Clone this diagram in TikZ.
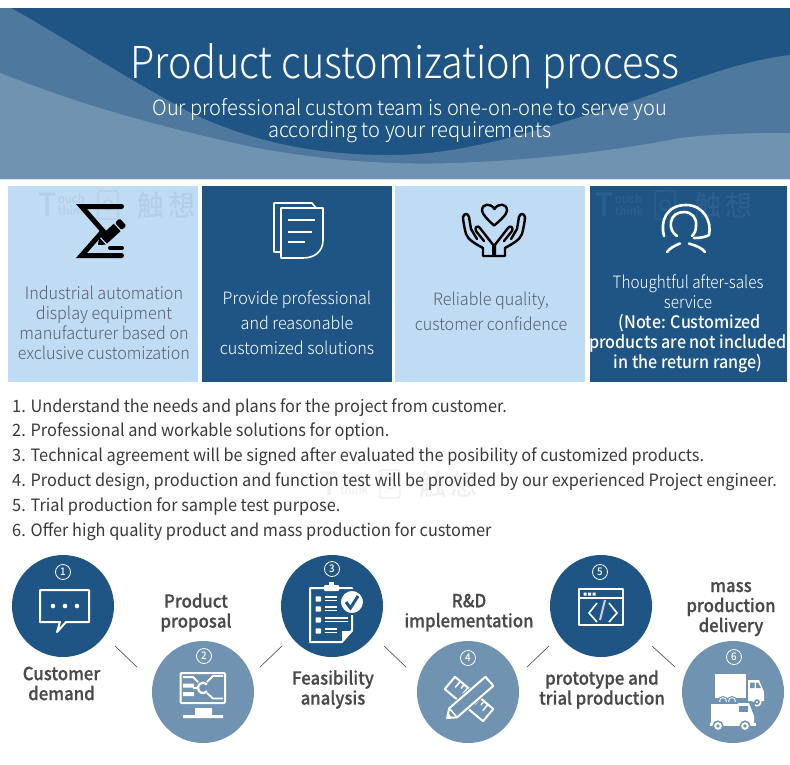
\documentclass[tikz,border=0pt]{standalone}
\usepackage{fontspec}
\setmainfont{Noto Sans CJK SC}
\newfontfamily\titlef[FakeStretch=0.9]{Noto Sans CJK SC Light}
\newfontfamily\subf[FakeStretch=0.955]{Noto Sans CJK SC Light}
\newfontfamily\lightf[FakeStretch=0.95]{Noto Sans CJK SC Light}
\newfontfamily\lightnf[FakeStretch=0.9]{Noto Sans CJK SC Light}
\newfontfamily\boldf[FakeStretch=0.93]{Noto Sans CJK SC Medium}
\newfontfamily\labelf[FakeStretch=0.93,FakeBold=0.6]{Noto Sans CJK SC Medium}
\newfontfamily\wmf[FakeStretch=0.93]{Noto Sans CJK SC Medium}
\newfontfamily\regf[FakeStretch=0.96]{Noto Sans CJK SC}
\definecolor{dk}{HTML}{1F5585}
\definecolor{md}{HTML}{4F789E}
\definecolor{lt}{HTML}{7093B2}
\definecolor{pale}{HTML}{C0DBF4}
\definecolor{graytx}{HTML}{56606A}
\definecolor{labeltx}{HTML}{4A4A4A}
\definecolor{listtx}{HTML}{3A3A3A}
\tikzset{
  x=1pt,y=-1pt,
  cardpale/.style={fill=pale,draw=none},
  carddark/.style={fill=dk,draw=none},
  txt/.style={inner sep=0pt,align=center,text=#1},
  lighttxt/.style={txt=graytx,font=\lightf\fontsize{17}{20}\selectfont},
  whitetxt/.style={txt=white,font=\lightf\fontsize{17}{25}\selectfont},
  listline/.style={inner sep=0pt,anchor=west,text=listtx,font=\regf\fontsize{17}{20}\selectfont},
  steplabel/.style={txt=labeltx,font=\labelf\fontsize{18}{20}\selectfont},
  dkcirc/.style={circle,fill=dk,minimum size=102pt,inner sep=0pt},
  ltcirc/.style={circle,fill=lt,minimum size=102pt,inner sep=0pt},
  numb/.style={circle,draw=white,line width=0.8pt,minimum size=15pt,inner sep=0pt,text=white,font=\boldf\fontsize{10.5}{11}\selectfont},
  icon/.style={draw=white,line width=2pt,line join=round},
  link/.style={draw=black!65,line width=0.7pt},
  hand/.style={draw=black,line width=2.4pt,line join=round,line cap=round},
  headset/.style={draw=white,line width=2.6pt,line cap=round,line join=round},
}
\newcommand{\wmark}[4]{%
 \begin{scope}[shift={(#2,#3)},opacity=0.06]
  \node[inner sep=0pt,anchor=west,text=#4,font=\wmf\fontsize{32}{32}\selectfont] (wT#1) at (0,0) {T};
  \node[inner sep=0pt,anchor=west,align=left,text=#4,font=\wmf\fontsize{12}{12.5}\selectfont] (wS#1) at (20,0) {ouch\\think};
  \draw[#4,line width=1.4pt,rounded corners=2pt] (60,-14) rectangle (80,14);
  \draw[#4,line width=1.4pt] (70,0) circle (5);
  \node[inner sep=0pt,anchor=west,text=#4,font=\wmf\fontsize{29}{30}\selectfont] (wC#1) at (99,0) {触\hspace{4pt}想};
 \end{scope}}
\begin{document}
\begin{tikzpicture}
\useasboundingbox (0,0) rectangle (790,764);
\fill[white] (0,0) rectangle (790,764);
% banner
\begin{scope}
\clip (0,8) rectangle (790,179);
\fill[dk] (0,8) rectangle (790,179);
\fill[md] (0,8) -- (11,8) .. controls (60,35) and (120,75) .. (191,113)
  .. controls (240,136) and (300,155) .. (390,155)
  .. controls (470,155) and (540,128) .. (605,110)
  .. controls (670,90) and (730,62) .. (790,55) -- (790,179) -- (0,179) -- cycle;
\fill[lt] (0,73) .. controls (60,96) and (120,118) .. (252,147)
  .. controls (330,162) and (400,165) .. (453,163)
  .. controls (540,160) and (620,150) .. (680,138)
  .. controls (720,133) and (760,133) .. (790,133) -- (790,179) -- (0,179) -- cycle;
\end{scope}
\node[txt=white,font=\titlef\fontsize{44}{50}\selectfont] (title) at (405,66) {Product customization process};
\node[txt=white,font=\subf\fontsize{21}{22.5}\selectfont] (subtitle) at (410,120.5) {Our professional custom team is one-on-one to serve you\\according to your requirements};
% cards
\fill[cardpale] (8,186) rectangle (198,382);
\fill[carddark] (202,186) rectangle (392,382);
\fill[cardpale] (395,186) rectangle (585,382);
\fill[carddark] (590,186) rectangle (787,382);
\wmark{a}{38}{205}{black}
\wmark{b}{595}{205}{white}
\wmark{c}{320}{484}{black}
% sigma icon
\draw[black,line width=5pt,line join=miter,line cap=round] (121.5,206.5) -- (81.5,206.5) -- (103,231) -- (81.5,255.5) -- (121.5,255.5);
\draw[black,line width=4pt,line cap=round] (110,248) -- (122,248);
\begin{scope}[shift={(98,245)},rotate=42.5]
\fill[black] (0,0) -- (6,-5) -- (6,5) -- cycle;
\fill[black] (7.5,-5) -- (26,-5) -- (26,5) -- (7.5,5) -- cycle;
\fill[black,rounded corners=1.5pt] (27.5,-5) -- (34,-5) -- (34,5) -- (27.5,5) -- cycle;
\end{scope}
% document icon
\draw[white,line width=1.6pt,line join=round] (280,252) -- (274,252) -- (274,203) -- (312,203) -- (316,208);
\draw[white,line width=1.6pt,line join=round,fill=dk] (281,208) -- (323,208) -- (323,240) .. controls (323,252) and (314,258) .. (303,258) -- (281,258) -- cycle;
\draw[white,line width=1.6pt] (288,220) -- (315,220) (288,232) -- (312,232) (288,242) -- (305,242);
% hands icon
\draw[hand] (494,225.5) .. controls (488,220) and (482,214) .. (482,210.5) .. controls (482,203) and (491,203) .. (494.5,209) .. controls (498,203) and (507,203) .. (507,210.5) .. controls (507,214) and (501,220) .. (494,225.5) -- cycle;
\foreach \sx in {1,-1}{
\begin{scope}[shift={(494,0)},xscale=\sx]
\draw[hand]
 (-0.8,256) -- (-11,256) -- (-11,248) .. controls (-18,244) and (-26,240) .. (-28,234)
 .. controls (-30,226) and (-31,220) .. (-31,217) .. controls (-30,213) and (-26,213) .. (-25,217)
 -- (-23,229) -- (-17,239);
\draw[hand] (-10,241) -- (-18,231) .. controls (-20,227) and (-16,225) .. (-14,228) -- (-0.8,245) -- (-0.8,256);
\end{scope}}
% support icon
\draw[headset] (664,236) .. controls (660,222) and (666,205) .. (686,205) .. controls (704,205) and (712,222) .. (709,235)
  .. controls (706,237) and (700,238) .. (694,238);
\draw[headset] (677,236) .. controls (672,233) and (670,227) .. (671,222) .. controls (672,215) and (678,212) .. (684,212) .. controls (692,212) and (697,218) .. (696,226) .. controls (696,230) and (695,233) .. (692,236);
\draw[headset] (667,252) .. controls (670,248) and (674,246) .. (680,243.5);
\draw[headset] (705,252) .. controls (702,248) and (697,246) .. (689,243.5);
% card texts
\node[lighttxt] (t1) at (104,323) {Industrial automation\\display equipment\\manufacturer based on\\exclusive customization};
\node[whitetxt] (t2) at (297,323) {Provide professional\\and reasonable\\customized solutions};
\node[lighttxt,font=\lightf\fontsize{17}{25}\selectfont] (t3) at (491,311.5) {Reliable quality,\\customer confidence};
\node[txt=white,font=\lightnf\fontsize{17}{20}\selectfont] (t4a) at (688,292) {Thoughtful after-sales\\service};
\node[txt=white,font=\boldf\fontsize{17.3}{20}\selectfont] (t4b) at (688,343) {\hspace{4pt}(Note: Customized\\products are not included\\in the return range)};
% list
\node[listline] (l1) at (12,408) {1. Understand the needs and plans for the project from customer.};
\node[listline] (l2) at (12,432) {2. Professional and workable solutions for option.};
\node[listline] (l3) at (12,457) {3. Technical agreement will be signed after evaluated the posibility of customized products.};
\node[listline] (l4) at (12,482) {4. Product design, production and function test will be provided by our experienced Project engineer.};
\node[listline] (l5) at (12,507) {5. Trial production for sample test purpose.};
\node[listline] (l6) at (12,532) {6. Offer high quality product and mass production for customer};
% circles
\node[dkcirc] (c1) at (63,606) {};
\node[ltcirc] (c2) at (203,692) {};
\node[dkcirc] (c3) at (332,606) {};
\node[ltcirc] (c4) at (468,692) {};
\node[dkcirc] (c5) at (601,606) {};
\node[ltcirc] (c6) at (733,692) {};
\node[numb] (n1) at (63,572) {1};
\node[numb] (n2) at (204,656) {2};
\node[numb] (n3) at (332,569) {3};
\node[numb] (n4) at (468,658) {4};
\node[numb] (n5) at (600,572) {5};
\node[numb] (n6) at (734,657) {6};
% connectors
\coordinate (a1) at (115,646); \coordinate (b1) at (137,667);
\coordinate (a2) at (260,667); \coordinate (b2) at (282,646);
\coordinate (a3) at (384,646); \coordinate (b3) at (406,667);
\coordinate (a4) at (527,667); \coordinate (b4) at (549,646);
\coordinate (a5) at (652,646); \coordinate (b5) at (675,667);
\draw[link] (a1) -- (b1);
\draw[link] (a2) -- (b2);
\draw[link] (a3) -- (b3);
\draw[link] (a4) -- (b4);
\draw[link] (a5) -- (b5);
% labels
\node[steplabel] (s1) at (61.5,683.5) {Customer\\demand};
\node[steplabel] (s2) at (196,612.5) {Product\\proposal};
\node[steplabel] (s3) at (333,689.5) {Feasibility\\analysis};
\node[steplabel] (s4) at (469,612.5) {R\&D\\implementation};
\node[steplabel] (s5) at (602,689.5) {prototype and\\trial production};
\node[steplabel] (s6) at (731,609) {mass\\production\\delivery};
% chat icon
\draw[icon] (40,590) -- (89,590) -- (89,622) -- (66,622) -- (57,632) -- (60,622) -- (40,622) -- cycle;
\fill[white] (53,606) circle (2.3) (65,606) circle (2.3) (77,606) circle (2.3);
% monitor icon
\draw[icon,rounded corners=1pt] (180.5,673) rectangle (225,703);
\fill[white] (195,708) rectangle (212,715) (183,715) rectangle (223,718);
\fill[white] (183,683.5) rectangle (194,687.5) (183,692) rectangle (194,696);
\draw[white,line width=2pt] (183,677) -- (193,677) -- (198,682) (193,688) -- (199,688);
\draw[white,line width=2.2pt] (207,684.5) arc (-40:-320:5.2);
\draw[white,line width=1.8pt] (207,682) -- (213,676) -- (223,676) (207,693) -- (213,698.5) -- (223,698.5);
% clipboard icon
\draw[icon] (310,588) -- (352,588) -- (352,630) -- (342,642) -- (310,642) -- cycle;
\fill[white] (342,642.5) -- (342,631) -- (353,631) -- cycle;
\fill[white,rounded corners=1pt] (324,585) rectangle (339,591);
\fill[white] (329,582) rectangle (334,586);
\foreach \yy/\ee in {599/337,609/337,620/348,631/337}{
 \fill[white,rounded corners=0.8pt] (315.5,\yy-2.7) rectangle (321,\yy+2.7);
 \draw[white,line width=1.2pt] (325,\yy-2) -- (\ee,\yy-2) (325,\yy+1.5) -- (\ee,\yy+1.5);
}
\draw[dk,fill=white,line width=1.8pt] (352,602) circle (12);
\draw[dk,line width=3pt] (346,602) -- (350.5,608) -- (358,596);
% ruler + pencil icon
\begin{scope}[shift={(469,699)}]
\begin{scope}[rotate=-40]
\draw[icon] (-25,-8) rectangle (25,8);
\draw[white,line width=1.5pt] (-18,-8) -- (-18,0) (-13,-8) -- (-13,-3) (-8,-8) -- (-8,0) (8,-8) -- (8,0) (13,-8) -- (13,-3) (18,-8) -- (18,0);
\end{scope}
\begin{scope}[rotate=41]
\fill[lt] (-24,-8) rectangle (28,8);
\draw[icon] (-29,0) -- (-21,-6) -- (27,-6) -- (27,6) -- (-21,6) -- cycle;
\draw[white,line width=1.5pt] (-21,-6) -- (-21,6);
\fill[white] (-29,0) -- (-25,-3) -- (-25,3) -- cycle;
\end{scope}
\end{scope}
% code window icon
\draw[icon] (579,589) rectangle (623,625);
\draw[white,line width=2pt] (579,598) -- (623,598);
\fill[white] (583.5,592.5) rectangle (586.5,595.5) (588,592.5) rectangle (591,595.5) (592.5,592.5) rectangle (595.5,595.5);
\draw[white,line width=1.6pt] (597,603) -- (589,613) -- (597,622) (609,603) -- (617,613) -- (609,622);
\draw[white!75!dk,line width=2pt] (605,600) -- (600,620);
% trucks icon
\fill[white] (715,674) rectangle (746,698);
\fill[white] (748,680) -- (759,680) -- (764,692) -- (764,701) -- (748,701) -- cycle;
\fill[lt] (750,682.5) rectangle (754.5,688) (756,682.5) -- (758,682.5) -- (761,688) -- (756,688) -- cycle;
\draw[white,fill=lt,line width=1.5pt] (757,702) circle (3.8);
\fill[white] (757,702) circle (1.1);
\draw[lt,fill=white,line width=1pt] (723,701) circle (4.5) (732,701) circle (4.5);
\fill[lt] (723,701) circle (2.8) (732,701) circle (2.8);
\fill[lt] (708,702) rectangle (755,706);
\fill[white] (711,704) -- (738,704) -- (738,703) -- (749,703) -- (754,716) -- (754,725) -- (711,725) -- cycle;
\fill[lt] (738.5,705.5) rectangle (748,712);
\fill[white] (710,723) rectangle (756,726);
\draw[lt,line width=1.5pt,fill=white] (718,726) circle (4.8) (745,726) circle (4.8);
\fill[lt] (718,726) circle (1.8) (745,726) circle (1.8);
\end{tikzpicture}
\end{document}
